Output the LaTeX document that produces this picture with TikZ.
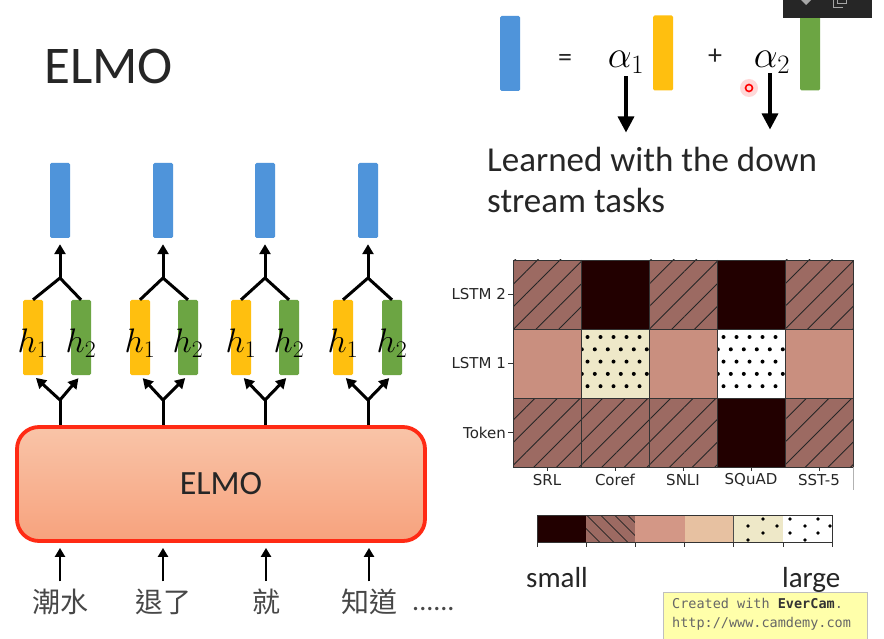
\documentclass[tikz,border=0pt]{standalone}
\usepackage{fix-cm}
\usepackage{fontspec}
\setmainfont{Carlito}
\newfontfamily\cjk{Noto Sans CJK TC}
\newfontfamily\dvs{DejaVu Sans}
\newfontfamily\dvm{DejaVu Sans Mono}
\usetikzlibrary{patterns.meta,arrows.meta}
\definecolor{barblue}{HTML}{4F94DA}
\definecolor{baryellow}{HTML}{FFBF0F}
\definecolor{bargreen}{HTML}{6CA543}
\definecolor{hatchc}{HTML}{9C6A62}
\definecolor{darkc}{HTML}{220000}
\definecolor{salmonc}{HTML}{C98F7F}
\definecolor{creamc}{HTML}{EEE8C8}
\definecolor{salmontwo}{HTML}{D39786}
\definecolor{peachc}{HTML}{E7C1A1}
\definecolor{elmotop}{HTML}{F9C4A8}
\definecolor{elmobot}{HTML}{F7A27D}
\definecolor{elmored}{HTML}{FF2A14}
\definecolor{textc}{HTML}{262626}
\definecolor{wmfill}{HTML}{FFFFAA}
\tikzset{
 vbar/.style={minimum width=20pt,minimum height=75pt,inner sep=0pt,rounded corners=1.5pt},
 bluebar/.style={vbar,fill=barblue},
 yellowbar/.style={vbar,fill=baryellow},
 greenbar/.style={vbar,fill=bargreen},
 conn/.style={line width=3pt,black},
 arr/.style={conn,-{Triangle[width=11pt,length=10pt]}},
 bigarr/.style={line width=3.3pt,-{Triangle[width=16pt,length=16pt]}},
 hlab/.style={inner sep=0pt,font=\fontsize{34}{40}\selectfont},
 amath/.style={inner sep=0pt,font=\fontsize{38}{44}\selectfont},
 eqsym/.style={inner sep=0pt,text=textc,font=\fontsize{28}{34}\selectfont},
 word/.style={inner sep=0pt,anchor=base,text=textc!85,font=\cjk\fontsize{28}{34}\selectfont},
 bigtext/.style={inner sep=0pt,anchor=base west,text=textc,font=\fontsize{35}{40}\selectfont},
 axlab/.style={inner sep=0pt,text=textc,font=\dvs\fontsize{15}{18}\selectfont},
 gridl/.style={line width=0.8pt,black!80},
 hmh/.style={fill=hatchc,postaction={pattern={Lines[angle=45,distance=16pt,line width=0.9pt]},pattern color=black!85}},
 hmd/.style={fill=darkc},
 hms/.style={fill=salmonc},
 hmc/.style={fill=creamc},
 hmw/.style={fill=white},
 cbd/.style={fill=darkc},
 cbb/.style={fill=hatchc,postaction={pattern={Lines[angle=-45,distance=10.5pt,line width=0.9pt]},pattern color=black!85}},
 cbs/.style={fill=salmontwo},
 cbp/.style={fill=peachc},
 cbc/.style={fill=creamc},
 cbw/.style={fill=white},
 elmobox/.style={draw=elmored,line width=3.8pt,rounded corners=22pt,top color=elmotop,bottom color=elmobot,
   minimum width=408pt,minimum height=114pt,inner sep=0pt,text=textc,font=\fontsize{34}{40}\selectfont},
}
\begin{document}
\begin{tikzpicture}[x=1pt,y=-1pt]
\useasboundingbox (0,0) rectangle (884,639);
\fill[white] (0,0) rectangle (884,639);

% title
\node[inner sep=0pt,anchor=base west,text=textc,font=\fontsize{53}{60}\selectfont] (title) at (44,84) {ELMO};

% left diagram
\node[elmobox] (elmo) at (221,484) {ELMO};
\foreach \i/\x/\yx/\gx in {1/60/33/81,2/163/140/188,3/265/241/289,4/368/343/392}{
  \node[bluebar] (b\i) at (\x,200.5) {};
  \node[yellowbar] (y\i) at (\yx,337.5) {};
  \node[greenbar] (g\i) at (\gx,337.5) {};
  \node[hlab] (hy\i) at (\yx,343) {$h_1$};
  \node[hlab] (hg\i) at (\gx,343) {$h_2$};
  \coordinate (j\i) at (\x,278);
  \coordinate (k\i) at (\x,400);
  \draw[conn,line join=miter] (y\i.north) -- (j\i) -- (g\i.north);
  \draw[arr,shorten >=6pt] (j\i) -- (b\i.south);
  \draw[conn] (elmo.north -| k\i) -- (k\i);
  \draw[arr,shorten >=4pt] (k\i) -- (y\i.south);
  \draw[arr,shorten >=4pt] (k\i) -- (g\i.south);
}
\foreach \i/\x/\w in {1/60/潮水,2/163/退了,3/266/就,4/369/知道}{
  \node[word] (w\i) at (\x,612) {\w};
  \draw[arr,line width=2.6pt,-{Triangle[width=10pt,length=9pt]},shorten >=5pt] ([yshift=7pt]w\i.north) -- (w\i.north |- elmo.south);
}
\node[inner sep=0pt,anchor=base west,text=textc!85,font=\fontsize{28}{34}\selectfont] (more) at (412,610) {......};

% equation
\node[bluebar] (eqb) at (510,53.5) {};
\node[eqsym] (eq) at (565,60) {=};
\node[amath] (a1) at (626,62) {$\alpha_1$};
\node[yellowbar] (eqy) at (663,53) {};
\node[eqsym] (plus) at (715,57) {+};
\node[amath] (a2) at (772,62) {$\alpha_2$};
\node[greenbar] (eqg) at (810,53) {};
\node[bigtext] (l1) at (487,172) {Learned with the down};
\node[bigtext] (l2) at (487,213) {stream tasks};
\draw[bigarr,shorten <=3pt,shorten >=15pt] (a1.south) -- (a1.south |- l1.north);
\draw[bigarr,shorten <=0pt,shorten >=18pt] ([xshift=-2pt]a2.south) -- ([xshift=-2pt]a2.south |- l1.north);

% toolbar and cursor
\fill[black!85] (783,0) rectangle (872,18);
\fill[gray!70] (801,0) -- (811,0) -- (806,5) -- cycle;
\draw[gray!70,line width=1pt] (833,0) -- (833,8) -- (843,8);
\draw[gray!70,line width=1pt] (837,4) rectangle (846,0);
\fill[red!30,opacity=0.5] (749,88) circle (9pt);
\draw[red,line width=1.6pt] (749,88) circle (3.5pt);

% heatmap
\foreach \c/\r/\tp in {0/0/h,1/0/d,2/0/h,3/0/d,4/0/h,0/1/s,1/1/c,2/1/s,3/1/w,4/1/s,0/2/h,1/2/h,2/2/h,3/2/d,4/2/h}{
  \path[hm\tp] ({513+68*\c},{260+69*\r}) rectangle ++(68,69);
}
\foreach \cx in {581,717}{
  \begin{scope}
  \clip (\cx,329) rectangle ++(68,69);
  \foreach \r in {0,...,4}{
    \pgfmathsetmacro\off{ifthenelse(mod(\r,2)==0,6.5,0.8)}
    \foreach \k in {0,...,5}{
      \fill ({\cx+\off+13*\k},{337+12.3*\r}) circle (2pt);
    }
  }
  \end{scope}
}
\foreach \c in {1,...,4} \draw[gridl] ({513+68*\c},260) -- ++(0,207);
\foreach \r in {1,2} \draw[gridl] (513,{260+69*\r}) -- ++(340,0);
\draw[gridl] (513,260) rectangle (853,467);
\draw[black!30,line width=0.8pt] (853,467) -- (853,490);
\foreach \r/\lab/\nm in {0/LSTM 2/rl1,1/LSTM 1/rl2,2/Token/rl3}{
  \draw[gridl] (508,{294.5+69*\r}) -- (513,{294.5+69*\r});
  \node[axlab,anchor=east] (\nm) at (506,{294.5+69*\r}) {\lab};
}
\foreach \c/\lab/\nm in {0/SRL/cl1,1/Coref/cl2,2/SNLI/cl3,3/SQuAD/cl4,4/SST-5/cl5}{
  \draw[gridl] ({547+68*\c},467) -- ({547+68*\c},471);
  \node[axlab] (\nm) at ({547+68*\c},480) {\lab};
}

% colour bar
\foreach \s/\tp in {0/d,1/b,2/s,3/p,4/c,5/w}{
  \path[cb\tp] ({537+49.17*\s},515) rectangle ++(49.17,27);
}
\foreach \p in {(763,519),(748,526),(777,526),(763,533),(790,519),(818,519),(805,526),(830,526),(790,533),(818,533),(748,540),(805,540)}{
  \fill \p circle (1.9pt);
}
\draw[line width=0.8pt,black!80] (537,515) rectangle (832,542);
\draw[line width=0.6pt,black!70] (733.7,515) -- (733.7,542);
\foreach \s in {0,...,6} \draw[line width=0.7pt,black!80] ({537+49.17*\s},542) -- ++(0,5);
\node[inner sep=0pt,anchor=base west,text=textc,font=\fontsize{29}{34}\selectfont] (small) at (526,587) {small};
\node[inner sep=0pt,anchor=base west,text=textc,font=\fontsize{29}{34}\selectfont] (large) at (782,587) {large};

% watermark
\node[draw=black!25,fill=wmfill,line width=0.8pt,anchor=north west,minimum width=204pt,minimum height=50pt,inner sep=0pt] (wm) at (663,592) {};
\node[inner sep=0pt,anchor=base west,text=black!60,font=\dvm\fontsize{13.5}{16}\selectfont] (wm1) at (672,608) {Created with {\color{black!80}\bfseries EverCam}.};
\node[inner sep=0pt,anchor=base west,text=black!60,font=\dvm\fontsize{13.5}{16}\selectfont] (wm2) at (672,627) {http://www.camdemy.com};
\end{tikzpicture}
\end{document}
